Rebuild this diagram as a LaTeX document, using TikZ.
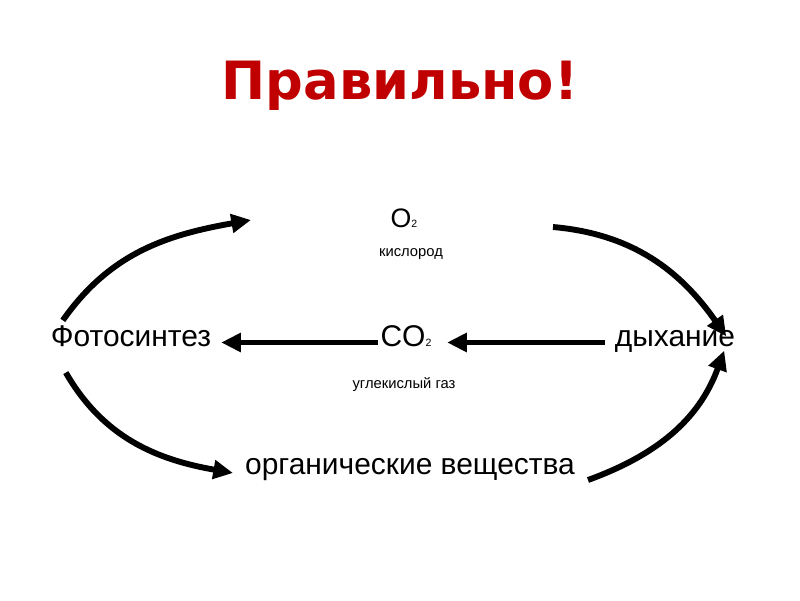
\documentclass[tikz,border=0pt]{standalone}
\usepackage{fontspec}
\setmainfont{Liberation Sans}
\newfontfamily\titlefont{DejaVu Sans}
\usetikzlibrary{arrows.meta,calc}
\definecolor{TitleRed}{HTML}{C00000}

\begin{document}
\begin{tikzpicture}[x=0.025cm, y=-0.025cm,
    word/.style={anchor=base, inner sep=2pt, text height=0.75em, text depth=0.25em, font=\fontsize{21.3pt}{24pt}\selectfont},
    note/.style={anchor=base, inner sep=1pt, font=\fontsize{10.5pt}{12pt}\selectfont},
    flow/.style={line width=4.2pt, -{Triangle[length=14pt, width=13pt]}}]
      \useasboundingbox (0,0) rectangle (800,600);
      % Nodes
      \node [anchor=base, text=TitleRed, font=\titlefont\bfseries\fontsize{37.5pt}{40pt}\selectfont] (title) at (400,99) {Правильно!};
      \node [word] (photo) at (131,346) {Фотосинтез};
      \node [word] (resp) at (675,346) {дыхание};
      \node [word] (co2) at (406,346) {CO{\fontsize{7.5pt}{8pt}\selectfont 2}};
      \node [word, font=\fontsize{19pt}{22pt}\selectfont] (o2) at (404,227) {O{\fontsize{7.5pt}{8pt}\selectfont 2}};
      \node [note] (oxy) at (411,256) {кислород};
      \node [note] (carb) at (404,388) {углекислый газ};
      \node [word] (organic) at (410,474) {органические вещества};

      % free ends of the curved arrows
      \coordinate (o2in) at (251,220);
      \coordinate (o2out) at (553,227);
      \coordinate (orgin) at (233,473);
      \coordinate (orgout) at (588,480);

      % Arrows
      \draw [flow, shorten >=5pt] (co2.west) -- (photo.east);
      \draw [flow, shorten >=9pt] ([xshift=-5pt]resp.west) -- (co2.east);
      \draw [flow] ($(photo.north west)+(15,-12)$) to[out=55, in=190] (o2in);
      \draw [flow] (o2out) to[out=-5, in=125] ($(resp.north east)+(-12,4)$);
      \draw [flow] ($(photo.south west)+(18,20)$) to[out=-60, in=170] (orgin);
      \draw [flow] (orgout) to[out=20, in=-110] ($(resp.south east)+(-14,-2)$);
    \end{tikzpicture}
\end{document}
